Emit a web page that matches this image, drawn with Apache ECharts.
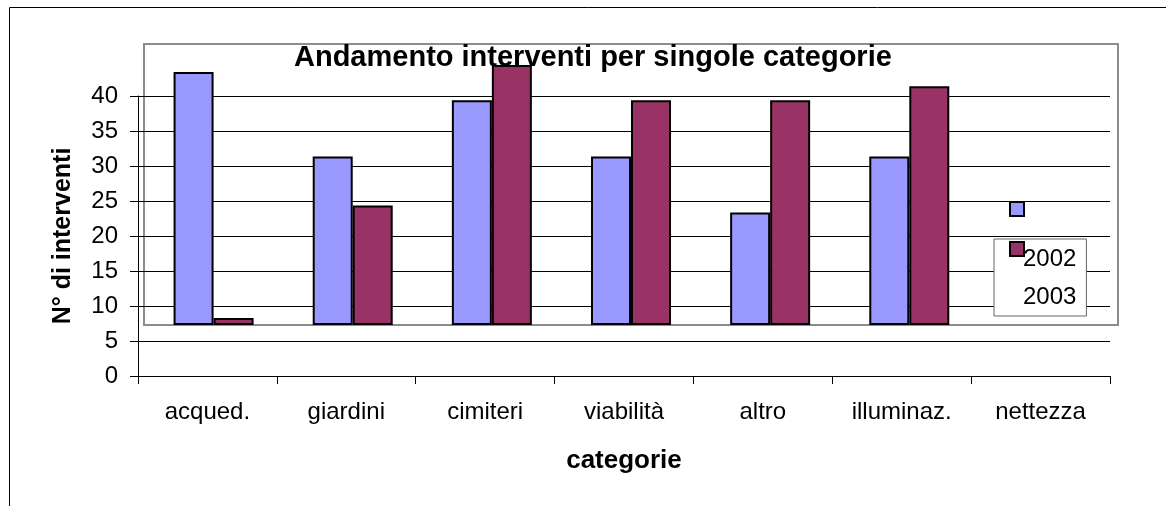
<!DOCTYPE html>
<html>
<head>
<meta charset="utf-8">
<script src="https://cdn.jsdelivr.net/npm/echarts@6/dist/echarts.min.js"></script>
<style>
  html, body { margin: 0; padding: 0; background: #fff; }
  #main { width: 1166px; height: 506px; }
</style>
</head>
<body>
<div id="main"></div>
<script>
// dati (nettezza: nessuna barra visibile)
var categories = ['acqued.', 'giardini', 'cimiteri', 'viabilità', 'altro', 'illuminaz.', 'nettezza'];
var seriesNames = ['2002', '2003'];
var values2002 = [36, 24, 32, 24, 16, 24, null];
var values2003 = [1, 17, 37, 32, 32, 34, null];
var yMin = 0, yMax = 40, yStep = 5;

var font = "'Liberation Sans', Arial, sans-serif";
var chartDom = document.getElementById('main');
var myChart = echarts.init(chartDom);
var option;

option = {
    animation: false,
    backgroundColor: '#fff',
    textStyle: { fontFamily: font, color: '#000' },
    title: {
        text: 'Andamento interventi per singole categorie',
        left: 289,
        top: 38,
        textStyle: { fontFamily: font, fontSize: 29, fontWeight: 'bold', color: '#000' }
    },
    graphic: [{
        type: 'rect',
        shape: { x: 9.5, y: 7.5, width: 1300, height: 700 },
        style: { fill: 'none', stroke: '#000', lineWidth: 1 },
        silent: true, z: 0
    }],
    legend: [{
        // solo i quadratini
        data: seriesNames,
        orient: 'vertical',
        left: 1009,
        top: 201,
        padding: 0,
        itemWidth: 14,
        itemHeight: 14,
        itemGap: 24,
        icon: 'rect',
        formatter: function () { return ''; },
        textStyle: { fontSize: 1 },
        z: 6
    }, {
        // solo le etichette, con il riquadro
        data: seriesNames,
        orient: 'vertical',
        left: 994,
        top: 239,
        padding: [6, 10, 5, 23],
        itemWidth: 1,
        itemHeight: 1,
        itemGap: 10,
        icon: 'rect',
        itemStyle: { color: 'transparent', borderWidth: 0 },
        backgroundColor: '#fff',
        borderColor: '#666',
        borderWidth: 1,
        textStyle: { fontFamily: font, fontSize: 24, lineHeight: 28, color: '#000' },
        z: 5
    }],
    grid: [{
        // assi visibili
        left: 138, right: 56, top: 96, bottom: 130,
        containLabel: false
    }, {
        // area del tracciato (riquadro grigio)
        left: 144, right: 48, top: 44, bottom: 181,
        show: true,
        borderColor: '#8c8c8c',
        borderWidth: 2,
        backgroundColor: 'transparent',
        containLabel: false
    }],
    xAxis: [{
        gridIndex: 0,
        type: 'category',
        data: categories,
        boundaryGap: true,
        name: 'categorie',
        nameLocation: 'middle',
        nameGap: 72,
        nameTextStyle: { fontFamily: font, fontSize: 26, fontWeight: 'bold', color: '#000' },
        axisLine: { lineStyle: { color: '#000', width: 1 } },
        axisTick: { show: true, length: 8, alignWithLabel: false, lineStyle: { color: '#000' } },
        axisLabel: { margin: 24, fontFamily: font, fontSize: 24, color: '#000', interval: 0 },
        splitLine: { show: false }
    }, {
        gridIndex: 1,
        type: 'category',
        data: categories,
        show: false
    }],
    yAxis: [{
        gridIndex: 0,
        type: 'value',
        min: yMin, max: yMax, interval: yStep,
        name: 'N° di interventi',
        nameLocation: 'middle',
        nameGap: 62,
        nameTextStyle: { fontFamily: font, fontSize: 25, fontWeight: 'bold', color: '#000' },
        axisLine: { show: true, lineStyle: { color: '#000', width: 1 } },
        axisTick: { show: true, length: 8, lineStyle: { color: '#000' } },
        axisLabel: { margin: 20, fontFamily: font, fontSize: 24, color: '#000' },
        splitLine: { show: true, lineStyle: { color: '#000', width: 1 } }
    }, {
        gridIndex: 1,
        type: 'value',
        min: yMin, max: yMax,
        show: false,
        splitLine: { show: false }
    }],
    series: [{
        name: seriesNames[0],
        type: 'bar',
        xAxisIndex: 1, yAxisIndex: 1,
        data: values2002,
        barWidth: 40,
        barGap: '0%',
        itemStyle: { color: '#9999FF', borderColor: '#000', borderWidth: 2 }
    }, {
        name: seriesNames[1],
        type: 'bar',
        xAxisIndex: 1, yAxisIndex: 1,
        data: values2003,
        barWidth: 40,
        barGap: '0%',
        itemStyle: { color: '#993366', borderColor: '#000', borderWidth: 2 }
    }]
};
option && myChart.setOption(option);
</script>
</body>
</html>
